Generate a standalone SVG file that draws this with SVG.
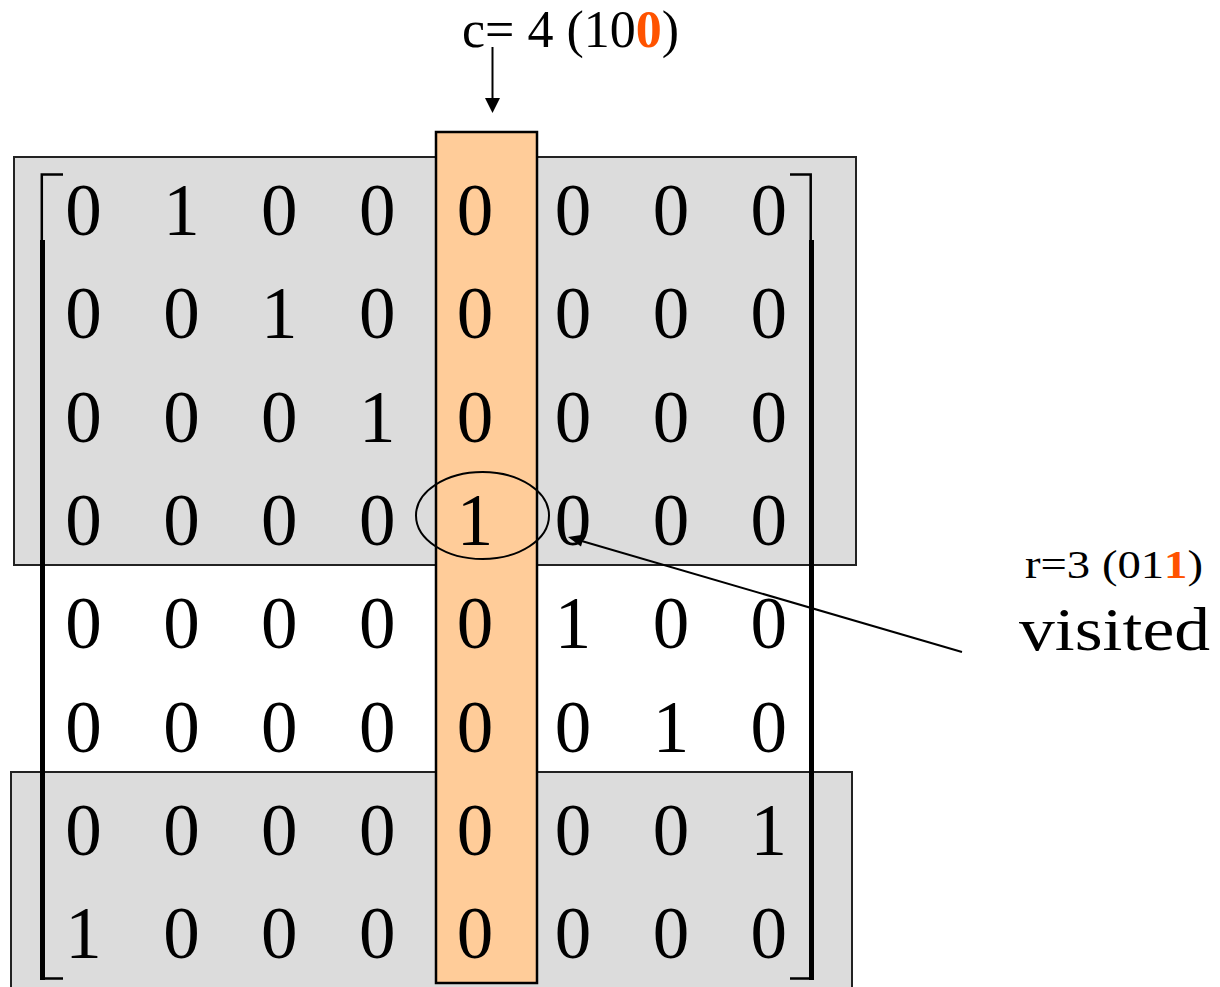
<svg xmlns="http://www.w3.org/2000/svg" width="1220" height="987" viewBox="0 0 1220 987">
<style>
.bg{fill:#dcdcdc;stroke:#222;stroke-width:2}
.col{fill:#ffcc99;stroke:#000;stroke-width:2.5}
.d{font-family:"Liberation Serif","Times New Roman",serif;font-size:73px;fill:#000;text-anchor:middle}
.lbl{font-family:"Liberation Serif","Times New Roman",serif;fill:#000}
.hl{fill:#ff5300;font-weight:bold}
.br{fill:none;stroke:#000}
.ln{stroke:#000;stroke-width:2;fill:none}
</style>
<rect width="1220" height="987" fill="#fff"/>
<g id="regions">
<rect id="visited-top" class="bg" x="14" y="157" width="842" height="408"/>
<rect id="visited-bottom" class="bg" x="11" y="772" width="841" height="230"/>
<rect id="column-c4" class="col" x="436" y="132" width="101" height="851"/>
</g>
<g id="matrix">
<g id="row1"><text class="d" x="83.5" y="235">0</text><text class="d" x="181.4" y="235">1</text><text class="d" x="279.3" y="235">0</text><text class="d" x="377.2" y="235">0</text><text class="d" x="475.1" y="235">0</text><text class="d" x="573" y="235">0</text><text class="d" x="670.9" y="235">0</text><text class="d" x="768.8" y="235">0</text></g>
<g id="row2"><text class="d" x="83.5" y="338">0</text><text class="d" x="181.4" y="338">0</text><text class="d" x="279.3" y="338">1</text><text class="d" x="377.2" y="338">0</text><text class="d" x="475.1" y="338">0</text><text class="d" x="573" y="338">0</text><text class="d" x="670.9" y="338">0</text><text class="d" x="768.8" y="338">0</text></g>
<g id="row3"><text class="d" x="83.5" y="442">0</text><text class="d" x="181.4" y="442">0</text><text class="d" x="279.3" y="442">0</text><text class="d" x="377.2" y="442">1</text><text class="d" x="475.1" y="442">0</text><text class="d" x="573" y="442">0</text><text class="d" x="670.9" y="442">0</text><text class="d" x="768.8" y="442">0</text></g>
<g id="row4"><text class="d" x="83.5" y="545">0</text><text class="d" x="181.4" y="545">0</text><text class="d" x="279.3" y="545">0</text><text class="d" x="377.2" y="545">0</text><text class="d" x="475.1" y="545">1</text><text class="d" x="573" y="545">0</text><text class="d" x="670.9" y="545">0</text><text class="d" x="768.8" y="545">0</text></g>
<g id="row5"><text class="d" x="83.5" y="648">0</text><text class="d" x="181.4" y="648">0</text><text class="d" x="279.3" y="648">0</text><text class="d" x="377.2" y="648">0</text><text class="d" x="475.1" y="648">0</text><text class="d" x="573" y="648">1</text><text class="d" x="670.9" y="648">0</text><text class="d" x="768.8" y="648">0</text></g>
<g id="row6"><text class="d" x="83.5" y="752">0</text><text class="d" x="181.4" y="752">0</text><text class="d" x="279.3" y="752">0</text><text class="d" x="377.2" y="752">0</text><text class="d" x="475.1" y="752">0</text><text class="d" x="573" y="752">0</text><text class="d" x="670.9" y="752">1</text><text class="d" x="768.8" y="752">0</text></g>
<g id="row7"><text class="d" x="83.5" y="855">0</text><text class="d" x="181.4" y="855">0</text><text class="d" x="279.3" y="855">0</text><text class="d" x="377.2" y="855">0</text><text class="d" x="475.1" y="855">0</text><text class="d" x="573" y="855">0</text><text class="d" x="670.9" y="855">0</text><text class="d" x="768.8" y="855">1</text></g>
<g id="row8"><text class="d" x="83.5" y="958">1</text><text class="d" x="181.4" y="958">0</text><text class="d" x="279.3" y="958">0</text><text class="d" x="377.2" y="958">0</text><text class="d" x="475.1" y="958">0</text><text class="d" x="573" y="958">0</text><text class="d" x="670.9" y="958">0</text><text class="d" x="768.8" y="958">0</text></g>
</g>
<g id="brackets">
<path class="br" stroke-width="2.5" d="M63,174.5 H41.8 V242"/>
<line class="br" stroke-width="5" x1="42.5" y1="240" x2="42.5" y2="980"/>
<path class="br" stroke-width="2.5" d="M42.5,978.5 H63"/>
<path class="br" stroke-width="2.5" d="M790,174.5 H810.7 V242"/>
<line class="br" stroke-width="5" x1="811.5" y1="240" x2="811.5" y2="980"/>
<path class="br" stroke-width="2.5" d="M811.5,978.5 H790"/>
</g>
<g id="highlight">
<ellipse cx="482.5" cy="515.5" rx="66.5" ry="43.5" class="ln"/>
</g>
<g id="labels">
<text id="c-label" class="lbl" x="462" y="47" font-size="52">c= 4 (10<tspan class="hl">0</tspan>)</text>
<text id="r-label" class="lbl" x="1025" y="578" font-size="40" textLength="178" lengthAdjust="spacingAndGlyphs">r=3 (01<tspan class="hl">1</tspan>)</text>
<text id="visited-label" class="lbl" x="1019" y="650" font-size="62" textLength="191" lengthAdjust="spacingAndGlyphs">visited</text>
</g>
<g id="connectors">
<line class="ln" x1="492.5" y1="47" x2="492.5" y2="99"/>
<polygon points="485,98 500,98 492.5,113" fill="#000"/>
<line class="ln" x1="962" y1="652" x2="580" y2="540.5"/>
<polygon points="568,537 584.5,534.5 581,546.5" fill="#000"/>
</g>
</svg>
